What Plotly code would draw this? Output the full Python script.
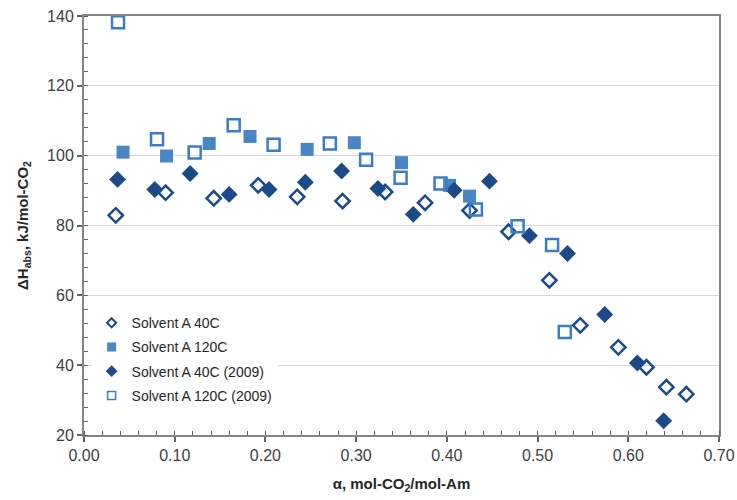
import plotly.graph_objects as go

# Solvent A 40C (open diamonds)
a40_x = [0.035, 0.090, 0.143, 0.192, 0.235, 0.285, 0.332, 0.376, 0.425, 0.468, 0.513, 0.547, 0.589, 0.620, 0.642, 0.664]
a40_y = [82.9, 89.4, 87.8, 91.5, 88.2, 87.0, 89.6, 86.5, 84.3, 78.2, 64.3, 51.4, 45.1, 39.4, 33.7, 31.7]

# Solvent A 120C (filled squares)
a120_x = [0.043, 0.091, 0.138, 0.183, 0.246, 0.298, 0.350, 0.403, 0.425]
a120_y = [101.0, 99.9, 103.5, 105.5, 101.8, 103.7, 98.0, 91.5, 88.4]

# Solvent A 40C (2009) (filled diamonds)
a40b_x = [0.037, 0.078, 0.117, 0.160, 0.204, 0.244, 0.284, 0.324, 0.363, 0.408, 0.447, 0.491, 0.533, 0.574, 0.610, 0.639]
a40b_y = [93.2, 90.3, 94.9, 88.9, 90.3, 92.4, 95.6, 90.6, 83.2, 90.1, 92.7, 77.1, 72.0, 54.5, 40.6, 24.1]

# Solvent A 120C (2009) (open squares)
a120b_x = [0.0375, 0.0805, 0.122, 0.165, 0.209, 0.271, 0.311, 0.349, 0.393, 0.432, 0.478, 0.516, 0.530]
a120b_y = [138.2, 104.7, 100.9, 108.7, 103.1, 103.5, 98.8, 93.7, 92.0, 84.6, 79.8, 74.4, 49.5]

x_ticks = [0.0, 0.1, 0.2, 0.3, 0.4, 0.5, 0.6, 0.7]
x_tick_labels = ["0.00", "0.10", "0.20", "0.30", "0.40", "0.50", "0.60", "0.70"]
y_ticks = [20, 40, 60, 80, 100, 120, 140]

names = ["Solvent A 40C", "Solvent A 120C", "Solvent A 40C (2009)", "Solvent A 120C (2009)"]

DARK = "#1b4a86"
MID = "#4a85c6"
LIGHT_LINE = "#3c7cc6"

styles = [
    dict(symbol="diamond-open", size=11, color=DARK, line=dict(width=2.5, color=DARK)),
    dict(symbol="square", size=13, color=MID, line=dict(width=0, color=MID)),
    dict(symbol="diamond", size=13, color=DARK, line=dict(width=0, color=DARK)),
    dict(symbol="square-open", size=12, color=LIGHT_LINE, line=dict(width=2.5, color=LIGHT_LINE)),
]
legend_styles = [
    dict(symbol="diamond-open", size=7, color=DARK, line=dict(width=2, color=DARK)),
    dict(symbol="square", size=9, color=MID, line=dict(width=0, color=MID)),
    dict(symbol="diamond", size=9, color=DARK, line=dict(width=0, color=DARK)),
    dict(symbol="square-open", size=8, color=LIGHT_LINE, line=dict(width=1.5, color=LIGHT_LINE)),
]
datasets = [(a40_x, a40_y), (a120_x, a120_y), (a40b_x, a40b_y), (a120b_x, a120b_y)]

fig = go.Figure()
for (xs, ys), name, st in zip(datasets, names, styles):
    fig.add_trace(go.Scatter(x=xs, y=ys, mode="markers", name=name, marker=st,
                             showlegend=False, cliponaxis=False))
for i, (name, st) in enumerate(zip(names, legend_styles)):
    fig.add_trace(go.Scatter(x=[None], y=[None], mode="markers", name=name, marker=st,
                             showlegend=True, legendgroup=f"g{i}"))

axis_font = dict(family="Liberation Sans, Arial, sans-serif", size=16, color="#404040")

fig.update_layout(
    width=737, height=500,
    margin=dict(l=84, r=18, t=16, b=65),
    paper_bgcolor="white", plot_bgcolor="white",
    font=dict(family="Liberation Sans, Arial, sans-serif", color="#262626"),
    showlegend=True,
    legend=dict(x=0.012, y=0.305, xanchor="left", yanchor="top",
                bgcolor="white", borderwidth=0,
                font=dict(family="Liberation Sans, Arial, sans-serif", size=14, color="#262626"),
                itemwidth=30, tracegroupgap=3, traceorder="grouped"),
    xaxis=dict(
        range=[0, 0.7], tickvals=x_ticks, ticktext=x_tick_labels,
        showgrid=False, zeroline=False, automargin=False, ticklabeloverflow="allow",
        showline=True, linecolor="#858585", linewidth=2, mirror=True,
        ticks="outside", ticklen=5, tickwidth=1.5, tickcolor="#606060",
        minor=dict(dtick=0.02, ticks="inside", ticklen=4, tickwidth=1, tickcolor="#606060", showgrid=False),
        tickfont=axis_font,
        title=dict(text="<b>α, mol-CO<sub>2</sub>/mol-Am</b>", font=dict(size=15, color="#262626")),
    ),
    yaxis=dict(
        range=[20, 140], tickvals=y_ticks,
        showgrid=True, gridcolor="#d9d9d9", gridwidth=1, zeroline=False, automargin=False,
        ticklabeloverflow="allow",
        showline=True, linecolor="#858585", linewidth=2, mirror=True,
        ticks="outside", ticklen=5, tickwidth=1.5, tickcolor="#606060",
        minor=dict(dtick=4, ticks="inside", ticklen=4, tickwidth=1, tickcolor="#606060", showgrid=False),
        tickfont=axis_font,
        title=dict(text="<b>ΔH<sub>abs</sub>, kJ/mol-CO<sub>2</sub></b>", font=dict(size=15, color="#262626")),
    ),
)

fig.write_html("out.html", config={"displayModeBar": False},
               post_script="document.body.style.margin='0';document.body.style.overflow='hidden';")
